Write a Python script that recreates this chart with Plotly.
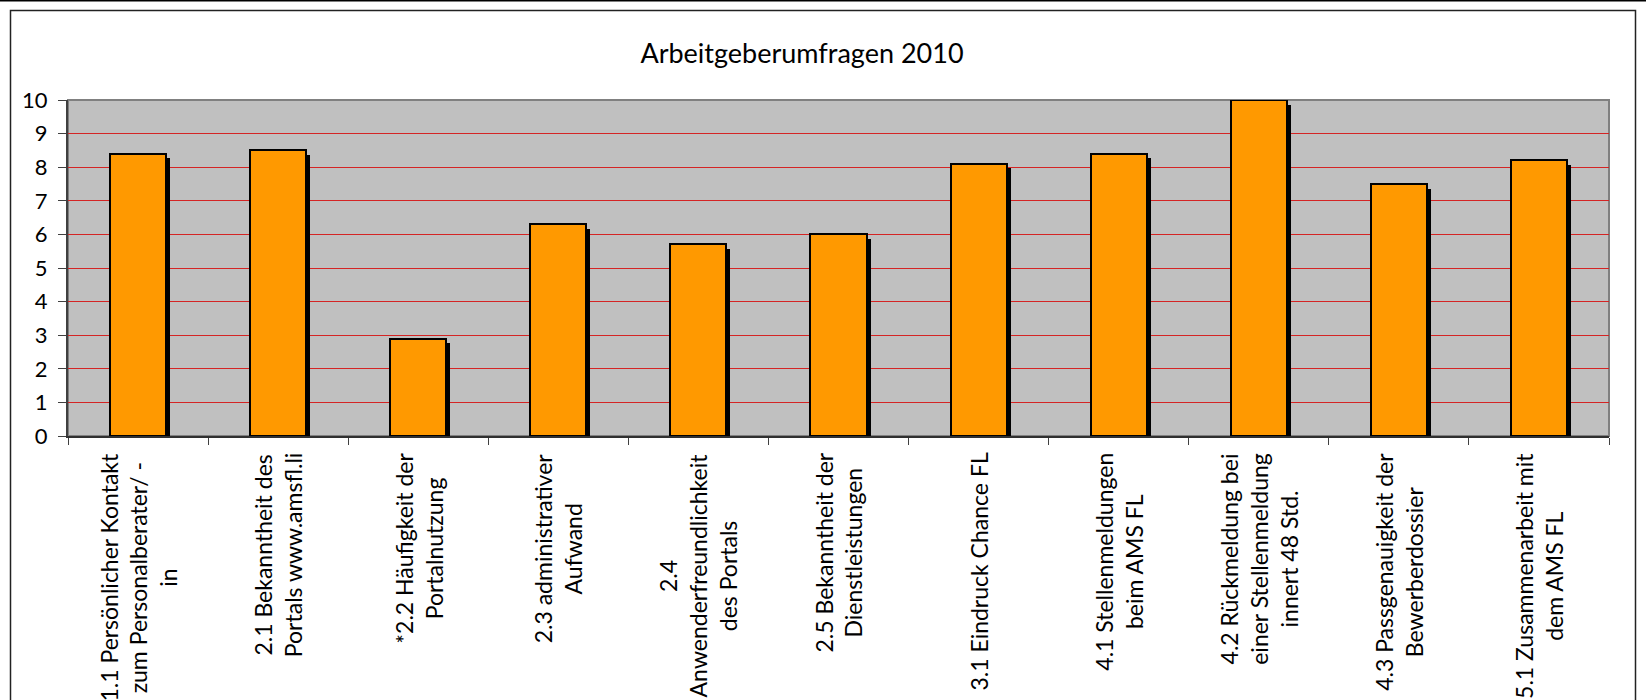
import plotly.graph_objects as go

# ---- data ----
categories = [
    "1.1 Persönlicher Kontakt<br>zum Personalberater/ -<br>in",
    "2.1 Bekanntheit des<br>Portals www.amsfl.li",
    "*2.2 Häufigkeit der<br>Portalnutzung",
    "2.3 administrativer<br>Aufwand",
    "2.4<br>Anwenderfreundlichkeit<br>des Portals",
    "2.5 Bekanntheit der<br>Dienstleistungen",
    "3.1 Eindruck Chance FL",
    "4.1 Stellenmeldungen<br>beim AMS FL",
    "4.2 Rückmeldung bei<br>einer Stellenmeldung<br>innert 48 Std.",
    "4.3 Passgenauigkeit der<br>Bewerberdossier",
    "5.1 Zusammenarbeit mit<br>dem AMS FL",
]
values = [8.4, 8.5, 2.9, 6.3, 5.7, 6.0, 8.1, 8.4, 10.0, 7.5, 8.2]
y_ticks = list(range(0, 11))
title_text = "Arbeitgeberumfragen 2010"

# ---- layout geometry (pixels) ----
W, H = 1646, 700
L, R, T, B = 68, 1609, 100, 436
pw, ph = R - L, B - T
n = len(categories)
cat_px = pw / n
unit_px = ph / 10.0

def px_x(px):
    return (px - L) / pw

def px_y(py):
    return (B - py) / ph

FONT = "Lato, 'Open Sans', sans-serif"
bar_w = 0.40
shadow_dx = 4 / cat_px
shadow_dy = 4.5 / unit_px

fig = go.Figure()

# shadow
fig.add_trace(go.Bar(
    x=categories, y=values, base=-shadow_dy,
    width=bar_w, offset=-bar_w / 2 + shadow_dx,
    marker=dict(color="#000000", line=dict(width=0)),
    hoverinfo="skip", showlegend=False,
))
# main bars
fig.add_trace(go.Bar(
    x=categories, y=values,
    width=bar_w, offset=-bar_w / 2,
    marker=dict(color="#FF9900", line=dict(color="#000000", width=2)),
    showlegend=False,
))

# category labels (rotated, centred lines)
for c in categories:
    fig.add_annotation(
        x=c, xref="x", y=px_y(451), yref="paper",
        text=c, textangle=-90, showarrow=False,
        xanchor="center", yanchor="top", align="center",
        font=dict(family=FONT, size=23, color="#000000"),
    )

shapes = [
    # top black line at page top
    dict(type="line", xref="paper", yref="paper",
         x0=px_x(-5), x1=px_x(W + 5), y0=px_y(0.5), y1=px_y(0.5),
         line=dict(color="#000000", width=2)),
    # chart area border
    dict(type="rect", xref="paper", yref="paper",
         x0=px_x(10.5), x1=px_x(1635.5), y0=px_y(720), y1=px_y(10.5),
         line=dict(color="#222222", width=1.5), layer="below"),
    # plot area border (grey)
    dict(type="rect", xref="paper", yref="paper",
         x0=0, x1=1, y0=0, y1=1,
         line=dict(color="#808080", width=2), layer="between"),
]

fig.update_layout(
    width=W, height=H, autosize=False,
    margin=dict(l=L, r=W - R, t=T, b=H - B, pad=0),
    paper_bgcolor="#FFFFFF", plot_bgcolor="#C0C0C0",
    barmode="overlay", bargap=0,
    title=dict(text=title_text, x=px_x(802), xref="paper", xanchor="center",
               y=1 - 54 / H, yref="container", yanchor="middle",
               font=dict(family=FONT, size=27, color="#000000")),
    font=dict(family=FONT, color="#000000"),
    shapes=shapes,
    xaxis=dict(type="category", tickson="boundaries", ticks="outside",
               ticklen=7, tickcolor="#404040", tickwidth=1,
               showticklabels=False, showgrid=False,
               showline=True, linecolor="#303030", linewidth=2,
               zeroline=False),
    yaxis=dict(range=[0, 10], tickvals=y_ticks, ticks="outside",
               ticklen=8, tickcolor="#404040", tickwidth=1,
               showgrid=True, gridcolor="#D42424", gridwidth=1,
               showline=True, linecolor="#404040", linewidth=2,
               zeroline=False, ticklabelstandoff=6,
               tickfont=dict(family=FONT, size=22, color="#000000")),
)

fig.write_html(
    "out.html",
    config={"displayModeBar": False},
    post_script="document.body.style.margin='0px';document.body.style.overflow='hidden';",
)
